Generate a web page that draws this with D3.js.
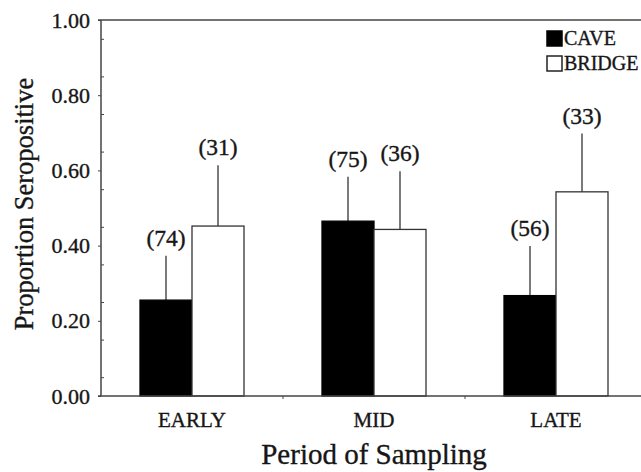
<!DOCTYPE html>
<html>
<head>
<meta charset="utf-8">
<script src="https://cdn.jsdelivr.net/npm/d3@7"></script>
<style>
  body { margin: 0; background: #fff; }
  text { font-family: "Liberation Serif", "Times New Roman", serif; fill: #161616; stroke: #161616; stroke-width: 0.35px; }
</style>
</head>
<body>
<svg id="chart" width="641" height="472"></svg>
<script>
// chart data
var periods = ["EARLY", "MID", "LATE"];
var seriesNames = ["CAVE", "BRIDGE"];
var caveValues = [0.255, 0.465, 0.267];
var caveErrors = [0.118, 0.118, 0.132];
var caveN = [74, 75, 56];
var bridgeValues = [0.452, 0.443, 0.543];
var bridgeErrors = [0.162, 0.155, 0.155];
var bridgeN = [31, 36, 33];
var yTicks = [0, 0.2, 0.4, 0.6, 0.8, 1.0];

var svg = d3.select("#chart");
var plotLeft = 101, plotTop = 20, plotBottom = 396, plotRight = 647;
var serif = "Liberation Serif";

var x = d3.scaleBand().domain(periods).range([plotLeft, plotRight]);
var barW = 52;
var xs = d3.scaleBand().domain(seriesNames)
    .range([x.bandwidth() / 2 - barW, x.bandwidth() / 2 + barW]);
var y = d3.scaleLinear().domain([0, 1]).range([plotBottom, plotTop]);

var rows = [];
periods.forEach(function (p, i) {
    rows.push({period: p, series: "CAVE", v: caveValues[i], e: caveErrors[i], n: caveN[i]});
    rows.push({period: p, series: "BRIDGE", v: bridgeValues[i], e: bridgeErrors[i], n: bridgeN[i]});
});

function barMid(d) { return x(d.period) + xs(d.series) + barW / 2; }

// error bars (upper only)
svg.append("g").selectAll("line").data(rows).enter().append("line")
    .attr("x1", barMid).attr("x2", barMid)
    .attr("y1", function (d) { return y(d.v); })
    .attr("y2", function (d) { return y(d.v + d.e); })
    .attr("stroke", "#333").attr("stroke-width", 1.3);

// bars
svg.append("g").selectAll("rect").data(rows).enter().append("rect")
    .attr("x", function (d) { return x(d.period) + xs(d.series); })
    .attr("y", function (d) { return y(d.v); })
    .attr("width", barW)
    .attr("height", function (d) { return y(0) - y(d.v); })
    .attr("fill", function (d) { return d.series == "CAVE" ? "#000" : "#fff"; })
    .attr("stroke", function (d) { return d.series == "CAVE" ? "#000" : "#333"; })
    .attr("stroke-width", 1.3);

// sample sizes
svg.append("g").selectAll("text").data(rows).enter().append("text")
    .attr("x", barMid)
    .attr("y", function (d) { return y(d.v + d.e) - 10; })
    .attr("text-anchor", "middle")
    .attr("font-family", serif)
    .attr("font-size", 23.5)
    .text(function (d) { return "(" + d.n + ")"; });

// y axis
var yAxis = d3.axisLeft(y).tickValues(yTicks).tickFormat(d3.format(".2f")).tickSize(3).tickPadding(8);
var gy = svg.append("g").attr("transform", "translate(" + plotLeft + ",0)").call(yAxis);
gy.select(".domain").remove();
gy.selectAll("text").attr("font-size", 22).attr("font-family", serif);
gy.selectAll("line").attr("stroke", "#444");
var yMinor = d3.axisRight(y).tickValues(d3.range(0.05, 1, 0.1)).tickSize(3).tickFormat("");
var gm = svg.append("g").attr("transform", "translate(" + plotLeft + ",0)").call(yMinor);
gm.select(".domain").remove();
gm.selectAll("line").attr("stroke", "#444");

// x axis
var xAxis = d3.axisBottom(x).tickSize(0).tickPadding(16);
var gx = svg.append("g").attr("transform", "translate(0," + plotBottom + ")").call(xAxis);
gx.select(".domain").remove();
gx.selectAll("text").attr("font-size", 21).attr("font-family", serif);
svg.append("g").selectAll("line").data(periods.slice(1)).enter().append("line")
    .attr("x1", function (d) { return x(d); }).attr("x2", function (d) { return x(d); })
    .attr("y1", plotBottom).attr("y2", plotBottom + 3)
    .attr("stroke", "#444");

// frame lines
svg.append("line").attr("x1", plotLeft).attr("x2", plotLeft).attr("y1", plotTop).attr("y2", plotBottom)
    .attr("stroke", "#444").attr("stroke-width", 1.5);
svg.append("line").attr("x1", plotLeft - 3).attr("x2", 641).attr("y1", plotTop).attr("y2", plotTop)
    .attr("stroke", "#444").attr("stroke-width", 1.5);
svg.append("line").attr("x1", plotLeft - 3).attr("x2", 641).attr("y1", plotBottom).attr("y2", plotBottom)
    .attr("stroke", "#444").attr("stroke-width", 1.5);

// titles
svg.append("text").attr("x", 374).attr("y", 464).attr("text-anchor", "middle")
    .attr("font-family", serif).attr("font-size", 29).text("Period of Sampling");
svg.append("text").attr("transform", "translate(33,204) rotate(-90)")
    .attr("text-anchor", "middle").attr("font-family", serif).attr("font-size", 26.5)
    .text("Proportion Seropositive");

// legend
var lg = svg.append("g").selectAll("g").data(seriesNames).enter().append("g")
    .attr("transform", function (d, i) { return "translate(547," + (31 + i * 25) + ")"; });
lg.append("rect").attr("width", 15).attr("height", 15)
    .attr("fill", function (d) { return d == "CAVE" ? "#000" : "#fff"; })
    .attr("stroke", function (d) { return d == "CAVE" ? "#000" : "#222"; })
    .attr("stroke-width", 1.5);
lg.append("text").attr("x", 17).attr("y", 14).attr("font-family", serif).attr("font-size", 20)
    .text(function (d) { return d; });
</script>
</body>
</html>
